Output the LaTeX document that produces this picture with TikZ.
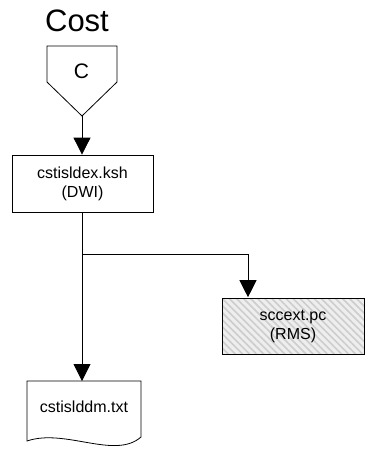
\documentclass[tikz,border=0pt]{standalone}
\usepackage{fontspec}
\setmainfont{Liberation Sans}
\usetikzlibrary{arrows.meta,patterns.meta}
\definecolor{hatchgray}{RGB}{205,205,205}
\definecolor{hatchback}{RGB}{238,238,238}

\begin{document}
\begin{tikzpicture}[x=1pt, y=-1pt,
    every node/.style={font=\fontsize{16}{19}\selectfont, align=center},
    procbox/.style={draw=black, line width=0.8pt, minimum width=141pt, minimum height=57pt, inner sep=0pt},
    hatchbox/.style={procbox, preaction={fill=hatchback},
      pattern={Lines[angle=-45, distance=5pt, line width=1.6pt]}, pattern color=hatchgray},
    outline/.style={draw=black, line width=0.8pt},
    flow/.style={draw=black, line width=0.8pt, -{Triangle[length=17pt, width=17pt]}}]
  \useasboundingbox (0,0) rectangle (368,451);
  \node [anchor=base, font=\fontsize{31}{31}\selectfont] (title) at (77,31) {Cost};
  % off-page connector
  \draw [outline] (47,46) -- (117,46) -- (117,82) -- (82,116) coordinate (ctip) -- (47,82) -- cycle;
  \node [font=\fontsize{21}{21}\selectfont] (cname) at (81.5,71) {C};
  \node [procbox] (dwi) at (82.5,183.5) {cstisldex.ksh\\(DWI)};
  \node [hatchbox, minimum width=142pt, minimum height=56pt] (rms) at (293,326) {sccext.pc\\(RMS)};
  % document
  \draw [outline] (27,381) coordinate (dleft) -- (141,381) -- (141,437)
    .. controls (115,460) and (65,428) .. (27,441) -- cycle;
  \coordinate (dtop) at (82,381);
  \node (ddm) at (84,407) {cstislddm.txt};
  \coordinate (split) at (82,254);
  \draw [flow] (ctip) -- (dwi.north -| ctip);
  \draw [flow] (dwi.south -| split) -- (dtop);
  \draw [flow] (split) -| ([xshift=-45pt]rms.north);
\end{tikzpicture}
\end{document}
